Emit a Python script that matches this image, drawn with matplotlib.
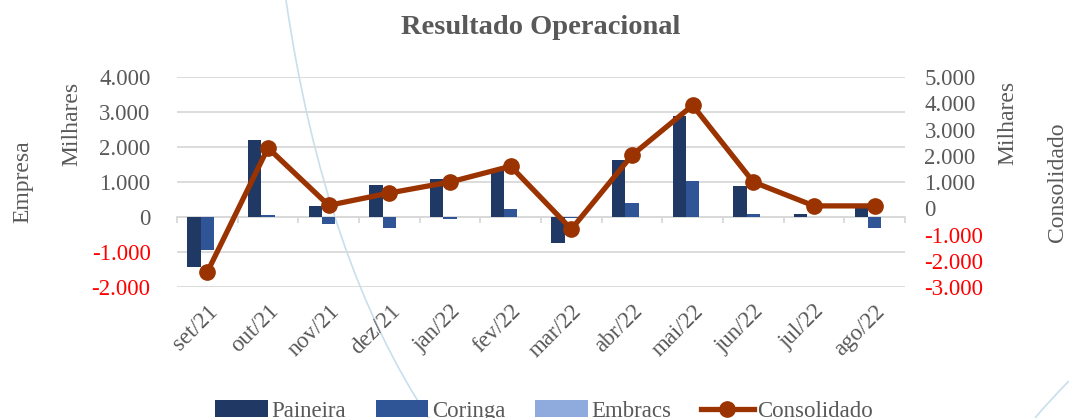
import numpy as np
import matplotlib
matplotlib.use('Agg')
import matplotlib.pyplot as plt
from matplotlib.path import Path
from matplotlib.patches import PathPatch

plt.rcParams['font.family'] = ['Liberation Serif', 'DejaVu Serif']

# Data (values in thousands)
months = ['set/21', 'out/21', 'nov/21', 'dez/21', 'jan/22', 'fev/22',
          'mar/22', 'abr/22', 'mai/22', 'jun/22', 'jul/22', 'ago/22']
paineira = [-1430, 2210, 320, 910, 1100, 1350, -730, 1620, 2900, 900, 75, 290]
coringa = [-950, 70, -200, -310, -60, 230, -30, 400, 1020, 75, 0, -310]
embracs = [0, 0, 0, 0, 0, 0, 0, 0, 0, 0, 0, 0]
consolidado = [-2430, 2300, 110, 580, 1000, 1600, -800, 2020, 3920, 1000, 90, 90]

left_ticks = [-2000, -1000, 0, 1000, 2000, 3000, 4000]
right_ticks = [-3000, -2000, -1000, 0, 1000, 2000, 3000, 4000, 5000]

c_pain = '#203864'
c_cor = '#2F5597'
c_emb = '#8FAADC'
c_cons = '#9A3300'
gray = '#595959'
grid = '#D9D9D9'


def fmt(v):
    return '{:,}'.format(int(v)).replace(',', '.')


fig = plt.figure(figsize=(10.69, 4.18), dpi=100)

# faint decorative arcs in the background
W, H = 1069, 418
arc = Path([(286 / W, 1), (324 / W, 1 - 261 / H), (430 / W, 1 - 420 / H)],
           [Path.MOVETO, Path.CURVE3, Path.CURVE3])
fig.add_artist(PathPatch(arc, fc='none', ec='#C9DFEC', lw=1.2,
                         transform=fig.transFigure, zorder=0))
arc2 = Path([(1035 / W, 0), (1050 / W, 1 - 400 / H), (1069 / W, 1 - 381 / H)],
            [Path.MOVETO, Path.CURVE3, Path.CURVE3])
fig.add_artist(PathPatch(arc2, fc='none', ec='#C9DFEC', lw=1.2,
                         transform=fig.transFigure, zorder=0))

ax = fig.add_axes([177 / W, 1 - 287 / H, 728 / W, 210 / H])
ax.patch.set_alpha(0)
x = np.arange(len(months))
w = 0.22
ax.bar(x - w, paineira, w, color=c_pain, label='Paineira', zorder=3)
ax.bar(x, coringa, w, color=c_cor, label='Coringa', zorder=3)
ax.bar(x + w, embracs, w, color=c_emb, label='Embracs', zorder=3)

ax.set_ylim(-2000, 4000)
ax.set_xlim(-0.5, len(months) - 0.5)
ax.set_yticks(left_ticks, [fmt(v) for v in left_ticks])
for lab, v in zip(ax.get_yticklabels(), left_ticks):
    lab.set_color('red' if v < 0 else gray)
ax.tick_params(axis='y', length=0, pad=19, labelsize=16.5)
ax.yaxis.grid(True, color=grid, lw=1.3, zorder=0)
ax.set_axisbelow(True)
for s in ['left', 'right', 'top']:
    ax.spines[s].set_visible(False)
ax.spines['bottom'].set_position(('data', 0))
ax.spines['bottom'].set_color(grid)
ax.spines['bottom'].set_linewidth(1.3)
ax.set_xticks(np.arange(len(months) + 1) - 0.5)
ax.tick_params(axis='x', length=4, color=grid, width=1.3, labelbottom=False)

sec = ax.secondary_xaxis('bottom')
sec.set_xticks(x)
sec.set_xticklabels(months, rotation=45, ha='right', va='top',
                    rotation_mode='anchor', color=gray, fontsize=16.5)
sec.tick_params(length=0, pad=10)
sec.spines['bottom'].set_visible(False)

ax2 = ax.twinx()
ax2.plot(x, consolidado, color=c_cons, lw=3.8, marker='o', ms=11,
         label='Consolidado', zorder=4)
ax2.set_ylim(-3000, 5000)
ax2.set_yticks(right_ticks, [fmt(v) for v in right_ticks])
for lab, v in zip(ax2.get_yticklabels(), right_ticks):
    lab.set_color('red' if v < 0 else gray)
ax2.tick_params(axis='y', length=0, pad=14, labelsize=16.5)
for s in ax2.spines.values():
    s.set_visible(False)

fig.text(541 / W, 1 - 27 / H, 'Resultado Operacional', ha='center', va='center',
         fontsize=20.5, fontweight='bold', color=gray)
fig.text(23 / W, 1 - 182 / H, 'Empresa', rotation=90, ha='center', va='center',
         fontsize=17, color=gray)
fig.text(72 / W, 1 - 124 / H, 'Milhares', rotation=90, ha='center', va='center',
         fontsize=17, color=gray)
fig.text(1008 / W, 1 - 123 / H, 'Milhares', rotation=90, ha='center', va='center',
         fontsize=17, color=gray)
fig.text(1057 / W, 1 - 182 / H, 'Consolidado', rotation=90, ha='center', va='center',
         fontsize=17, color=gray)

h1, l1 = ax.get_legend_handles_labels()
h2, l2 = ax2.get_legend_handles_labels()
leg = fig.legend(h1 + h2, l1 + l2, loc='center', ncol=4, frameon=False,
                 bbox_to_anchor=(544 / W, 1 - 411 / H), fontsize=16.5,
                 handlelength=2.3, handletextpad=0.15, columnspacing=1.3)
for t in leg.get_texts():
    t.set_color(gray)

fig.savefig('out.png', dpi=100)
